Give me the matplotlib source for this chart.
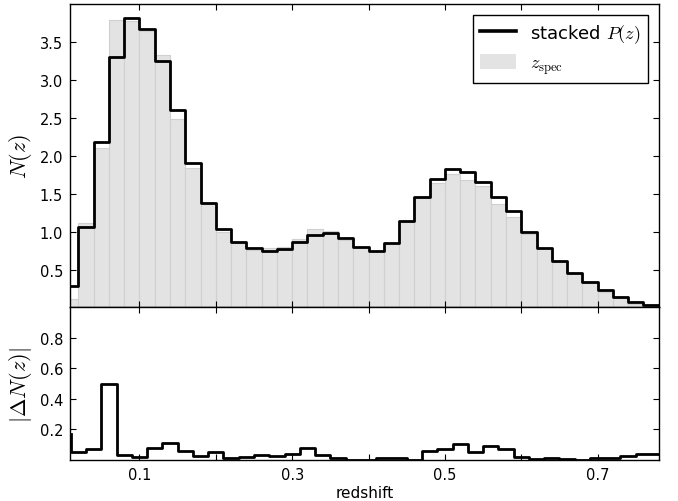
import numpy as np
import matplotlib
matplotlib.use("Agg")
import matplotlib.pyplot as plt

# bin edges in redshift (0.02 wide)
edges = np.round(np.arange(0.0, 0.81, 0.02), 2)
centers = edges[:-1] + 0.01

# stacked P(z) (black step line)
pz = [0.285, 1.063, 2.177, 3.298, 3.81, 3.67, 3.25, 2.60, 1.90, 1.38,
      1.04, 0.857, 0.78, 0.745, 0.77, 0.86, 0.954, 0.976, 0.91, 0.795,
      0.747, 0.852, 1.134, 1.451, 1.70, 1.825, 1.79, 1.653, 1.45, 1.266,
      0.99, 0.79, 0.615, 0.46, 0.33, 0.225, 0.135, 0.07, 0.027, 0.012]

# spectroscopic N(z) (grey bars)
zspec = [0.115, 1.12, 2.10, 3.795, 3.78, 3.65, 3.33, 2.49, 1.84, 1.36,
         1.00, 0.85, 0.76, 0.778, 0.796, 0.90, 1.033, 1.01, 0.896, 0.793,
         0.745, 0.839, 1.121, 1.449, 1.641, 1.753, 1.682, 1.603, 1.37, 1.193,
         0.972, 0.786, 0.60, 0.453, 0.326, 0.21, 0.12, 0.042, 0.0, 0.0]

# |Delta N(z)| (lower panel)
dN = [0.17, 0.055, 0.073, 0.497, 0.031, 0.022, 0.077, 0.112, 0.061, 0.024,
      0.05, 0.011, 0.02, 0.033, 0.026, 0.04, 0.079, 0.035, 0.014, 0.002,
      0.002, 0.013, 0.013, 0.002, 0.059, 0.072, 0.108, 0.05, 0.09, 0.073,
      0.018, 0.004, 0.013, 0.006, 0.003, 0.015, 0.015, 0.028, 0.037, 0.037]

xticks = [0.1, 0.2, 0.3, 0.4, 0.5, 0.6, 0.7]
xticklabels = ['0.1', '', '0.3', '', '0.5', '', '0.7']

plt.rcParams['mathtext.fontset'] = 'cm'
plt.rcParams['font.family'] = 'DejaVu Sans'

fig = plt.figure(figsize=(6.78, 5.02), dpi=100)
ax1 = fig.add_axes([0.1032, 0.3855, 0.8683, 0.6045])
ax2 = fig.add_axes([0.1032, 0.0817, 0.8683, 0.3038], sharex=ax1)

# top panel
line, = ax1.step(edges, np.append(pz, pz[-1]), where='post', color='k',
                 lw=2.0)
bars = ax1.bar(edges[:-1], zspec, width=0.02, align='edge', color='#e3e3e3',
               edgecolor='#d0d0d0', linewidth=0.8)
ax1.set_ylim(0, 4.0)
ax1.set_yticks([0.5, 1.0, 1.5, 2.0, 2.5, 3.0, 3.5])
ax1.set_ylabel(r'$N(z)$', fontsize=16, labelpad=4)
leg = ax1.legend([line, bars], [r'stacked $P(z)$', r'$z_{\rm spec}$'],
                 loc='upper right', fontsize=13, fancybox=False,
                 framealpha=1, edgecolor='k', borderaxespad=0.6,
                 handleheight=0.9)
leg.get_frame().set_linewidth(1.0)
leg.get_lines()[0].set_linewidth(2.6)
leg.get_patches()[0].set_edgecolor('none')
plt.setp(ax1.get_xticklabels(), visible=False)

# bottom panel
ax2.step(centers, dN, where='pre', color='k', lw=2.0)
ax2.set_ylim(0, 1.0)
ax2.set_yticks([0.2, 0.4, 0.6, 0.8])
ax2.set_ylabel(r'$|\Delta N(z)|$', fontsize=16, labelpad=4)
ax2.set_xlabel('redshift', fontsize=11, labelpad=2)
ax2.set_xlim(0.009, 0.78)
ax2.set_xticks(xticks)
ax2.set_xticklabels(xticklabels)

for ax in (ax1, ax2):
    ax.tick_params(direction='in', top=True, right=True, length=4.5,
                   width=0.8, labelsize=10.5, pad=5)
    for sp in ax.spines.values():
        sp.set_linewidth(1.0)

fig.align_ylabels([ax1, ax2])
fig.savefig('out.png', dpi=100)
